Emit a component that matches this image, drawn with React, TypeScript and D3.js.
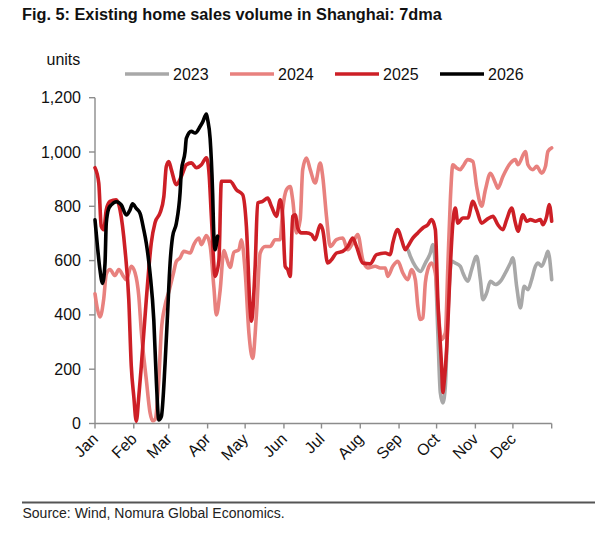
import React from "react";
import * as d3 from "d3";

const years = ["2023", "2024", "2025", "2026"];
const lineColors = ["#A8A8A8", "#E8817E", "#CD1F26", "#000000"];
const yTicks = [0, 200, 400, 600, 800, 1000, 1200];
const monthLabels = ["Jan", "Feb", "Mar", "Apr", "May", "Jun", "Jul", "Aug", "Sep", "Oct", "Nov", "Dec"];

// [day of year offset from Jan 1, units (7dma)]
const s2023: [number, number][] = [
  [248, 645], [250, 640], [252, 616], [256, 579], [260, 560], [264, 591], [268, 628], [270, 659], [272, 579],
  [274, 334], [276, 113], [278, 76], [280, 137], [282, 395], [285, 597], [288, 591], [292, 579], [294, 555],
  [298, 524], [301, 567], [305, 616], [308, 530], [310, 456], [313, 481], [316, 524], [320, 512], [324, 524],
  [328, 555], [332, 591], [334, 610], [337, 505], [340, 426], [343, 505], [346, 493], [349, 530], [352, 579],
  [354, 591], [357, 579], [360, 610], [362, 634], [365, 530],
];

const s2024: [number, number][] = [
  [0, 478], [2, 420], [4, 392], [7, 460], [9, 550], [12, 567], [16, 545], [19, 567], [23, 540], [25, 530],
  [29, 579], [32, 555], [35, 469], [37, 340], [41, 162], [44, 40], [46, 10], [48, 15], [51, 162], [53, 340],
  [56, 435], [59, 485], [63, 560], [65, 597], [68, 610], [71, 634], [76, 628], [79, 659], [83, 683], [85, 659],
  [89, 692], [92, 655], [95, 502], [97, 400], [100, 490], [103, 637], [105, 612], [108, 575], [111, 631],
  [115, 640], [117, 677], [120, 560], [123, 334], [126, 240], [129, 400], [132, 628], [136, 652], [140, 652],
  [144, 677], [148, 677], [150, 787], [153, 861], [156, 873], [158, 824], [161, 702], [164, 751], [166, 935],
  [169, 978], [172, 935], [176, 886], [180, 959], [182, 910], [185, 763], [188, 652], [193, 677], [198, 683],
  [202, 640], [206, 665], [210, 696], [214, 603], [218, 573], [224, 579], [228, 573], [232, 573], [234, 542],
  [238, 579], [242, 597], [246, 555], [250, 530], [253, 567], [256, 530], [258, 432], [260, 383], [262, 389],
  [264, 518], [266, 567], [269, 591], [272, 555], [274, 432], [277, 309], [280, 334], [282, 579], [284, 824],
  [286, 953], [289, 941], [292, 935], [294, 947], [298, 972], [302, 965], [305, 873], [309, 800], [312, 861],
  [316, 922], [320, 886], [322, 867], [326, 910], [332, 959], [336, 972], [338, 953], [344, 1002], [346, 953],
  [350, 935], [353, 947], [357, 922], [360, 947], [362, 1002], [365, 1015],
];

const s2025: [number, number][] = [
  [0, 942], [3, 886], [5, 726], [7, 714], [9, 787], [12, 818], [17, 824], [20, 787], [24, 640], [27, 456],
  [29, 211], [31, 100], [33, 8], [35, 100], [37, 211], [41, 456], [45, 666], [48, 740], [52, 776], [55, 835],
  [57, 947], [59, 965], [61, 935], [65, 880], [69, 910], [73, 953], [77, 960], [81, 942], [85, 953], [89, 979],
  [91, 930], [93, 763], [96, 542], [99, 600], [101, 892], [108, 892], [113, 861], [118, 843], [121, 726],
  [124, 420], [125, 377], [128, 579], [130, 812], [134, 818], [138, 830], [141, 800], [145, 763], [148, 824],
  [150, 763], [152, 579], [154, 567], [156, 542], [158, 763], [160, 769], [162, 720], [165, 702], [169, 702],
  [173, 696], [176, 677], [180, 732], [182, 714], [186, 591], [189, 603], [193, 628], [198, 634], [202, 652],
  [206, 683], [209, 652], [214, 591], [220, 588], [225, 622], [232, 628], [236, 622], [238, 665], [242, 714],
  [245, 677], [248, 640], [250, 652], [254, 683], [258, 702], [262, 720], [266, 732], [269, 751], [272, 714],
  [274, 456], [277, 211], [278, 114], [279, 150], [281, 272], [284, 579], [286, 738], [288, 794], [290, 738],
  [294, 757], [298, 757], [302, 818], [305, 787], [309, 738], [313, 751], [318, 763], [322, 732], [326, 714],
  [329, 751], [333, 794], [336, 738], [338, 708], [342, 769], [345, 745], [348, 751], [352, 745], [356, 751],
  [358, 732], [361, 763], [363, 806], [365, 745],
];

const s2026: [number, number][] = [
  [0, 750], [2, 650], [4, 565], [6, 516], [8, 590], [9, 737], [11, 792], [13, 805], [17, 817], [21, 805],
  [25, 768], [28, 787], [30, 809], [33, 792], [36, 774], [39, 713], [41, 664], [44, 553], [47, 381], [49, 160],
  [51, 13], [53, 25], [56, 221], [58, 405], [60, 590], [62, 688], [65, 737], [68, 850], [69, 928], [72, 1002],
  [73, 1050], [77, 1076], [80, 1070], [84, 1094], [86, 1110], [89, 1140], [90, 1120], [92, 1050], [94, 850],
  [95, 690], [96, 640], [97, 660], [98, 690],
];

const seriesList = [s2023, s2024, s2025, s2026];

const W = 595;
const H = 544;
const plot = { left: 95, right: 551.7, top: 97.7, bottom: 423.5 };
const FONT = "Arial, 'Liberation Sans', sans-serif";
const AXIS = "#8C8C8C";

export default function App() {
  const start = new Date(2025, 0, 1);
  const end = new Date(2026, 0, 1);
  const x = d3.scaleTime().domain([start, end]).range([plot.left, plot.right]);
  const y = d3.scaleLinear().domain([0, 1200]).range([plot.bottom, plot.top]);
  const monthTicks = x.ticks(d3.timeMonth.every(1));

  const line = d3
    .line<[number, number]>()
    .x((d) => x(d3.timeDay.offset(start, d[0])))
    .y((d) => y(d[1]))
    .curve(d3.curveMonotoneX);

  return (
    <svg
      width={W}
      height={H}
      style={{ position: "absolute", left: 0, top: 0, background: "#fff" }}
      fontFamily={FONT}
    >
      <rect x={0} y={0} width={W} height={H} fill="#fff" />
      <text x={22} y={20} fontSize={16.3} fontWeight="bold" fill="#111">
        Fig. 5: Existing home sales volume in Shanghai: 7dma
      </text>
      <text x={46.5} y={65} fontSize={16} fill="#111">
        units
      </text>

      {/* legend */}
      {years.map((yr, i) => {
        const lx = 125 + i * 105;
        return (
          <g key={yr}>
            <line x1={lx} x2={lx + 44} y1={74} y2={74} stroke={lineColors[i]} strokeWidth={3.4} />
            <text x={lx + 48} y={79.5} fontSize={16} fill="#111">
              {yr}
            </text>
          </g>
        );
      })}

      {/* y axis */}
      <line x1={plot.left} x2={plot.left} y1={plot.top} y2={plot.bottom} stroke={AXIS} strokeWidth={1.4} />
      {yTicks.map((t) => (
        <g key={t}>
          <line x1={plot.left - 6} x2={plot.left} y1={y(t)} y2={y(t)} stroke={AXIS} strokeWidth={1.4} />
          <text x={81} y={y(t) + 5.5} fontSize={16} textAnchor="end" fill="#111">
            {d3.format(",")(t)}
          </text>
        </g>
      ))}

      {/* x axis */}
      <line x1={plot.left} x2={plot.right} y1={plot.bottom} y2={plot.bottom} stroke={AXIS} strokeWidth={1.4} />
      {monthTicks.map((t, i) => (
        <line
          key={"t" + i}
          x1={x(t)}
          x2={x(t)}
          y1={plot.bottom}
          y2={plot.bottom + 5}
          stroke={AXIS}
          strokeWidth={1.4}
        />
      ))}
      {monthTicks.slice(0, 12).map((t, i) => (
        <text
          key={"l" + i}
          transform={`translate(${x(t) + 4},${440}) rotate(-45)`}
          fontSize={16}
          textAnchor="end"
          fill="#111"
        >
          {monthLabels[i]}
        </text>
      ))}

      {/* series */}
      {seriesList.map((s, i) => (
        <path
          key={years[i]}
          d={line(s) || ""}
          fill="none"
          stroke={lineColors[i]}
          strokeWidth={3.6}
          strokeLinejoin="round"
          strokeLinecap="round"
        />
      ))}

      {/* footer */}
      <line x1={22} x2={W} y1={502.5} y2={502.5} stroke="#555" strokeWidth={2} />
      <text x={22.5} y={518} fontSize={14} fill="#222">
        Source: Wind, Nomura Global Economics.
      </text>
    </svg>
  );
}
